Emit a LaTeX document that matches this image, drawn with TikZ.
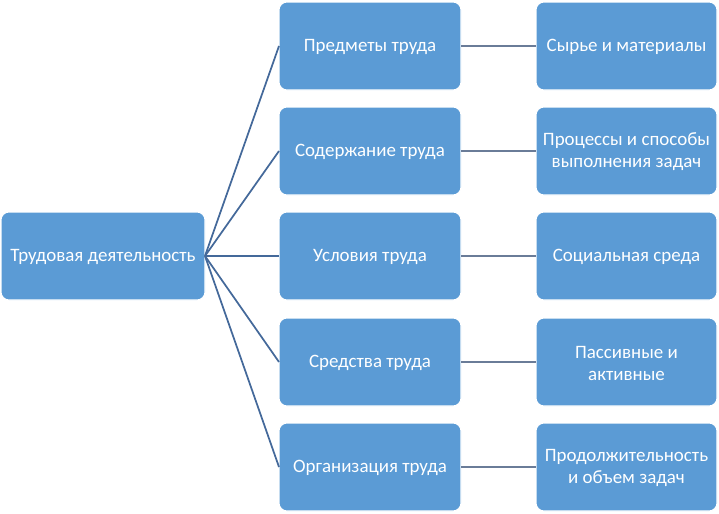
\documentclass[tikz,border=0pt]{standalone}
\usepackage{fontspec}
\setmainfont{Carlito}
\definecolor{boxblue}{HTML}{5B9BD5}
\definecolor{linkblue}{HTML}{44699A}
\definecolor{linkgray}{HTML}{6A7C98}
\begin{document}
\begin{tikzpicture}[x=0.75pt,y=-0.75pt,
  bx/.style={draw=white,line width=0.8pt,fill=boxblue,rounded corners=6pt},
  bt/.style={text=white,font=\fontsize{14.2pt}{16.5pt}\selectfont,align=center,inner sep=0pt},
  lk/.style={draw=linkblue,line width=1.3pt},
  lk2/.style={draw=linkgray,line width=1.3pt}]
\useasboundingbox (0,0) rectangle (719,514);
\newcommand{\bxat}[6]{%
  \draw[bx] (#1,#2) rectangle (#3,#4);
  \node[bt] (#5) at ({(#1+#3)/2},{(#2+#4)/2+1}) {#6};
  \coordinate (#5w) at (#1,{(#2+#4)/2});
  \coordinate (#5e) at (#3,{(#2+#4)/2});}
\bxat{1}{212}{205}{300}{root}{Трудовая деятельность}
\bxat{279}{2}{461}{90}{m1}{Предметы труда}
\bxat{279}{107}{461}{195}{m2}{Содержание труда}
\bxat{279}{212}{461}{300}{m3}{Условия труда}
\bxat{279}{318}{461}{406}{m4}{Средства труда}
\bxat{279}{423}{461}{511}{m5}{Организация труда}
\bxat{536}{2}{717}{90}{r1}{Сырье и материалы}
\bxat{536}{107}{717}{195}{r2}{Процессы и способы\\выполнения задач}
\bxat{536}{212}{717}{300}{r3}{Социальная среда}
\bxat{536}{318}{717}{406}{r4}{Пассивные и\\активные}
\bxat{536}{423}{717}{511}{r5}{Продолжительность\\и объем задач}
\foreach \i in {1,...,5}{
  \draw[lk] (roote) -- (m\i w);
  \draw[lk2] (m\i e) -- (r\i w);
}
\end{tikzpicture}
\end{document}
